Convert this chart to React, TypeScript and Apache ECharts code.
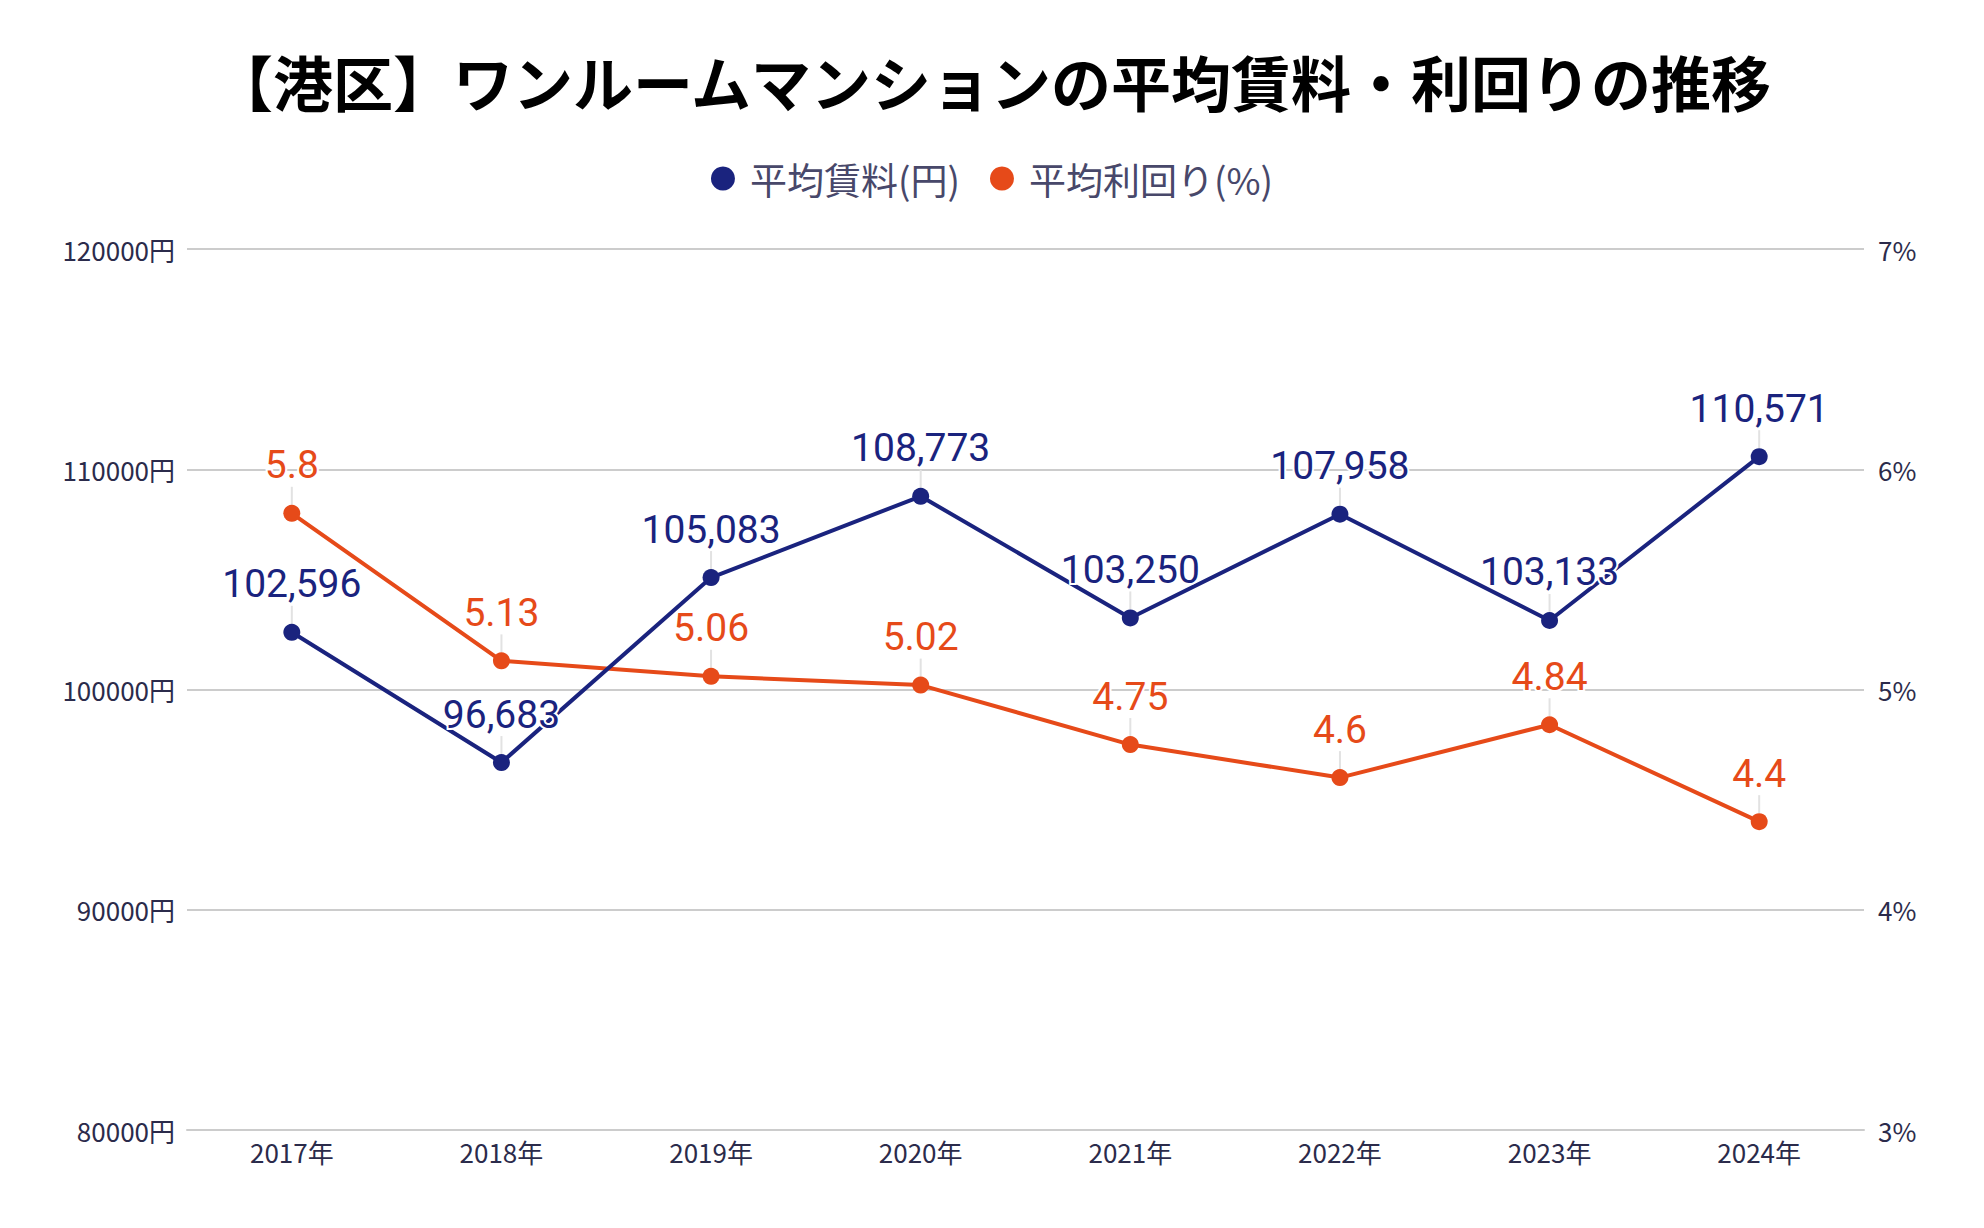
import React, { useEffect, useRef } from "react";
import * as echarts from "echarts";

const titleText = "【港区】ワンルームマンションの平均賃料・利回りの推移";
const categories = ["2017年", "2018年", "2019年", "2020年", "2021年", "2022年", "2023年", "2024年"];
const rentName = "平均賃料(円)";
const yieldName = "平均利回り(%)";
const rentValues = [102596, 96683, 105083, 108773, 103250, 107958, 103133, 110571];
const yieldValues = [5.8, 5.13, 5.06, 5.02, 4.75, 4.6, 4.84, 4.4];

const BLUE = "#1a237e";
const ORANGE = "#e64a19";
const AXIS_TEXT = "#2b2b4b";

export default function App() {
  const ref = useRef<HTMLDivElement>(null);
  useEffect(() => {
    if (!ref.current) return;
    const chart = echarts.init(ref.current, undefined, { renderer: "svg" });
    const labelCommon = (color: string, fmt: (v: number) => string) => ({
      show: true,
      position: "top",
      distance: 5,
      color,
      fontFamily: "Roboto",
      fontSize: 39,
      textBorderColor: "#fff",
      textBorderWidth: 4,
      formatter: (p: any) => fmt(p.value),
    });
    chart.setOption({
      animation: false,
      backgroundColor: "#fff",
      title: {
        text: titleText,
        left: "center",
        top: 45,
        textStyle: {
          fontFamily: "Noto Sans CJK JP",
          fontWeight: "bold",
          fontSize: 60,
          color: "#000",
        },
      },
      legend: {
        top: 155,
        left: "center",
        icon: "circle",
        itemWidth: 24,
        itemHeight: 24,
        itemGap: 30,
        textStyle: {
          fontFamily: "Noto Sans CJK JP",
          fontSize: 37,
          color: "#48486a",
          padding: [0, 0, 0, 10],
        },
        data: [rentName, yieldName],
      },
      grid: { left: 187, right: 120, top: 249, bottom: 98, containLabel: false },
      xAxis: {
        type: "category",
        data: categories,
        boundaryGap: true,
        axisLine: { show: true, lineStyle: { color: "#cccccc", width: 2 } },
        axisTick: { show: false },
        axisLabel: {
          fontFamily: "Noto Sans CJK JP",
          fontSize: 26,
          color: AXIS_TEXT,
          margin: 8,
        },
      },
      yAxis: [
        {
          type: "value",
          min: 80000,
          max: 120000,
          interval: 10000,
          axisLine: { show: false },
          axisTick: { show: false },
          splitLine: { lineStyle: { color: "#cccccc", width: 2 } },
          axisLabel: {
            formatter: (v: number) => String(v) + "円",
            fontFamily: "Noto Sans CJK JP",
            fontSize: 26,
            color: AXIS_TEXT,
            margin: 12,
          },
        },
        {
          type: "value",
          min: 3,
          max: 7,
          interval: 1,
          axisLine: { show: false },
          axisTick: { show: false },
          splitLine: { show: false },
          axisLabel: {
            formatter: (v: number) => String(v) + "%",
            fontFamily: "Noto Sans CJK JP",
            fontSize: 26,
            color: AXIS_TEXT,
            margin: 14,
          },
        },
      ],
      series: [
        {
          name: rentName,
          type: "line",
          yAxisIndex: 0,
          data: rentValues,
          symbol: "circle",
          symbolSize: 17,
          itemStyle: { color: BLUE },
          lineStyle: { color: BLUE, width: 4 },
          label: labelCommon(BLUE, (v) => v.toLocaleString("en-US")),
          labelLine: { show: true, lineStyle: { color: "#e2e2e2", width: 2 } },
          labelLayout: { dy: -15 },
          z: 3,
        },
        {
          name: yieldName,
          type: "line",
          yAxisIndex: 1,
          data: yieldValues,
          symbol: "circle",
          symbolSize: 17,
          itemStyle: { color: ORANGE },
          lineStyle: { color: ORANGE, width: 4 },
          label: labelCommon(ORANGE, (v) => String(v)),
          labelLine: { show: true, lineStyle: { color: "#e2e2e2", width: 2 } },
          labelLayout: { dy: -15 },
          z: 2,
        },
      ],
    });
    return () => chart.dispose();
  }, []);
  return <div ref={ref} style={{ width: 1984, height: 1228, marginLeft: -8, marginTop: -8 }} />;
}
